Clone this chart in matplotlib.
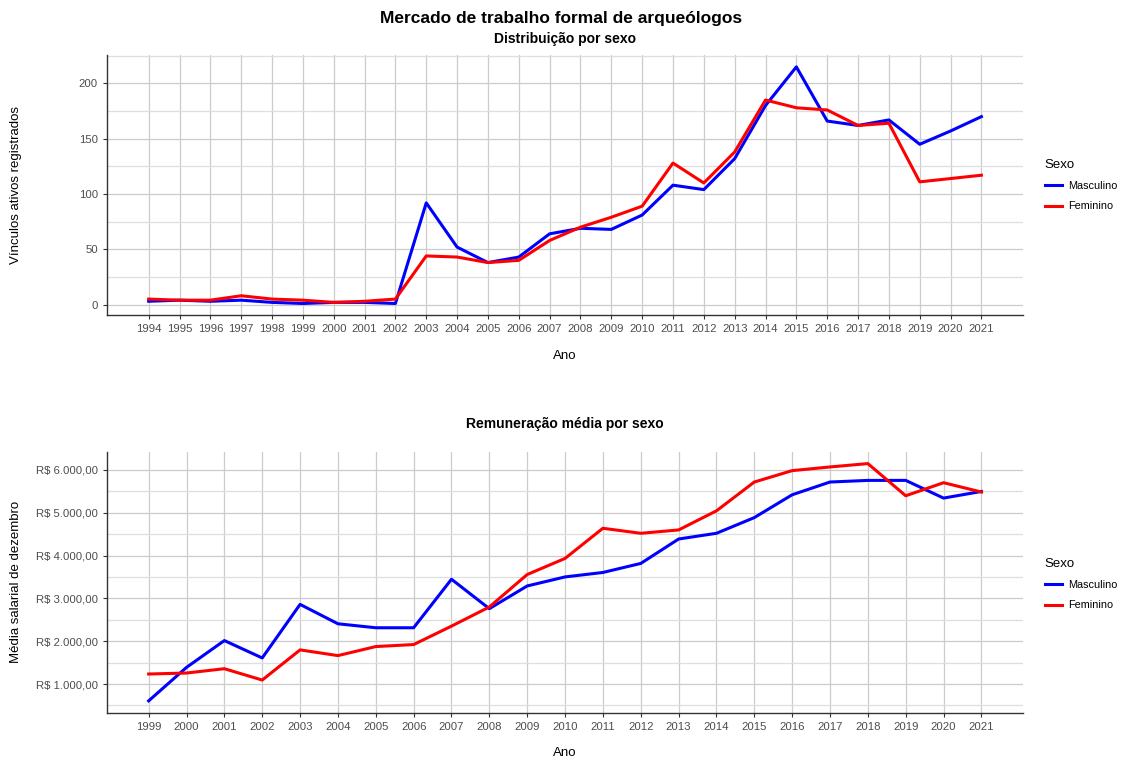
import matplotlib.pyplot as plt
from matplotlib.lines import Line2D
from matplotlib.ticker import FuncFormatter, MultipleLocator

plt.rcParams['font.family'] = ['Liberation Sans', 'DejaVu Sans']

# vinculos ativos por sexo
anosVinc = list(range(1994, 2022))
vincMasc = [3, 4, 3, 4, 2, 1, 2, 2, 1, 92, 52, 38, 43, 64, 69, 68, 81, 108, 104, 132, 180, 215, 166, 162, 167, 145, 157, 170]
vincFem = [5, 4, 4, 8, 5, 4, 2, 3, 5, 44, 43, 38, 40, 58, 70, 79, 89, 128, 110, 138, 185, 178, 176, 162, 164, 111, 114, 117]

# remuneracao media por sexo
anosRem = list(range(1999, 2022))
remMasc = [608, 1390, 2016, 1610, 2861, 2408, 2315, 2315, 3448, 2761, 3291, 3502, 3606, 3817, 4387, 4521, 4887, 5420, 5718, 5756, 5756, 5343, 5498]
remFem = [1235, 1258, 1359, 1094, 1798, 1665, 1876, 1923, 2353, 2800, 3558, 3934, 4638, 4521, 4599, 5045, 5718, 5984, 6070, 6148, 5397, 5702, 5484]

corMasc = '#0000ff'
corFem = '#ff0000'
cinza = '#4d4d4d'

def reais(v, pos):
    s = '{:,.2f}'.format(v).replace(',', 'X').replace('.', ',').replace('X', '.')
    return 'R$ ' + s

def estilo(ax, anos, serie1, serie2, maior, menor):
    ax.plot(anos, serie1, color=corMasc, lw=2.2)
    ax.plot(anos, serie2, color=corFem, lw=2.2)
    lo = min(serie1 + serie2)
    hi = max(serie1 + serie2)
    ax.set_ylim(lo - 0.05*(hi-lo), hi + 0.05*(hi-lo))
    ax.set_xlim(anos[0] - 0.05*(anos[-1]-anos[0]), anos[-1] + 0.05*(anos[-1]-anos[0]))
    ax.set_xticks(anos)
    ax.yaxis.set_major_locator(MultipleLocator(maior))
    ax.yaxis.set_minor_locator(MultipleLocator(menor))
    ax.grid(which='major', color='#cccccc', lw=0.9)
    ax.grid(which='minor', axis='y', color='#dedede', lw=0.9)
    ax.set_axisbelow(True)
    for s in ['top', 'right']:
        ax.spines[s].set_visible(False)
    for s in ['left', 'bottom']:
        ax.spines[s].set_color('#333333')
        ax.spines[s].set_linewidth(1.0)
    ax.tick_params(which='major', labelsize=8.2, labelcolor=cinza, color='#333333', length=3, width=0.8)
    ax.tick_params(which='minor', length=0)
    ax.set_xlabel('Ano', fontsize=9.5, labelpad=11)
    ax.yaxis.set_label_coords(-0.093, 0.5)

fig = plt.figure(figsize=(11.23, 7.6), dpi=100)
ax1 = fig.add_axes([0.0953, 0.5851, 0.8157, 0.3425])
ax2 = fig.add_axes([0.0953, 0.0622, 0.8157, 0.3434])

estilo(ax1, anosVinc, vincMasc, vincFem, 50, 25)
ax1.set_ylabel('Vínculos ativos registrados', fontsize=9.5)
ax1.set_title('Distribuição por sexo', fontsize=10, fontweight='bold', pad=9)

estilo(ax2, anosRem, remMasc, remFem, 1000, 500)
ax2.yaxis.set_major_formatter(FuncFormatter(reais))
ax2.set_ylabel('Média salarial de dezembro', fontsize=9.5)
ax2.set_title('Remuneração média por sexo', fontsize=10, fontweight='bold', pad=17)

fig.text(0.5, 1 - 18/760, 'Mercado de trabalho formal de arqueólogos', ha='center', va='center', fontsize=12.5, fontweight='bold')

handles = [Line2D([], [], color=corMasc, lw=2.2), Line2D([], [], color=corFem, lw=2.2)]
for yTop in [149, 548]:
    leg = fig.legend(handles, ['Masculino', 'Feminino'], title='Sexo', loc='upper left',
                     bbox_to_anchor=(1035/1123, 1 - yTop/760), frameon=False, fontsize=7.8,
                     title_fontsize=9.5, handlelength=1.6, handletextpad=0.6, labelspacing=0.95,
                     alignment='left')

fig.savefig('out.png', dpi=100)
